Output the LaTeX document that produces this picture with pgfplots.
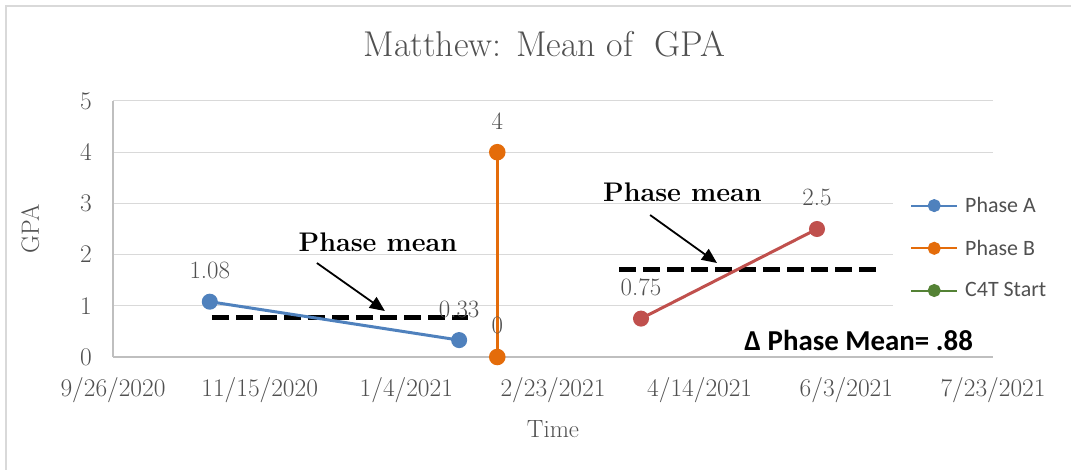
\documentclass[border=0pt]{standalone}
\usepackage{pgfplots}
\pgfplotsset{compat=1.18}
\usepackage{fontspec}
\newfontfamily\carlito{Carlito}
\usetikzlibrary{arrows.meta}
\definecolor{phaseA}{HTML}{4F81BD}
\definecolor{phaseB}{HTML}{E46C0A}
\definecolor{phaseC}{HTML}{C0504D}
\definecolor{cstart}{HTML}{548235}
\definecolor{textgray}{HTML}{505050}
\definecolor{gridgray}{HTML}{D9D9D9}
\definecolor{axisgray}{HTML}{BFBFBF}
\begin{document}
\begin{tikzpicture}[x=1bp,y=1bp]
\useasboundingbox (-113,-113) rectangle (958,357);
\draw[line width=1.5bp, color=gridgray] (-107,-113) -- (-107,351) -- (958,351);
\node[anchor=base, font=\fontsize{36}{42}\selectfont, text=textgray] at (431.5,300) {Matthew: Mean of\ \ GPA};
\begin{axis}[
  at={(0,0)}, anchor=south west,
  scale only axis, width=880bp, height=256bp,
  xmin=0, xmax=300, ymin=0, ymax=5,
  clip=false,
  axis lines=left,
  axis line style={-, draw=axisgray, line width=1.3bp},
  xtick={0,50,...,300},
  xticklabels={9/26/2020,11/15/2020,1/4/2021,2/23/2021,4/14/2021,6/3/2021,7/23/2021},
  ytick={0,1,...,5},
  major tick length=0pt,
  ymajorgrids, grid style={draw=gridgray, line width=1bp},
  /pgf/number format/assume math mode=true,
  ticklabel style={font=\fontsize{25.5}{30}\selectfont, text=textgray},
  xticklabel style={anchor=north, inner sep=0pt, yshift=-20bp},
  yticklabel style={anchor=east, inner sep=0pt, xshift=-21bp},
  xlabel={Time}, ylabel={GPA},
  label style={font=\fontsize{25}{30}\selectfont, text=textgray},
  xlabel style={at={(axis description cs:0.5,-0.281)}, anchor=center},
  ylabel style={at={(axis description cs:-0.094,0.5)}, anchor=center},
  legend style={at={(axis description cs:0.8864,0.66)}, anchor=north west,
    draw=none, fill=white, inner xsep=17bp, inner ysep=9bp,
    font=\carlito\fontsize{22}{26}\selectfont, text=textgray,
    row sep=26bp, nodes={inner sep=0pt},
    /tikz/every odd column/.append style={column sep=7bp}},
  legend cell align=left,
  legend image code/.code={\draw[mark repeat=2,mark phase=2,#1] plot coordinates {(0bp,0bp) (23bp,0bp) (46bp,0bp)};},
  nodes near coords style={font=\fontsize{25}{30}\selectfont, text=textgray, anchor=base, inner sep=0pt, yshift=23bp},
]
% phase means
\addplot[forget plot, black, line width=5bp, dash pattern=on 17bp off 7bp] coordinates {(33.75,0.77) (121,0.77)};
\addplot[forget plot, black, line width=5bp, dash pattern=on 17bp off 7bp] coordinates {(172.5,1.70) (260.5,1.70)};
% series
\addplot[forget plot, color=phaseA, line width=3bp, mark=*, mark size=6.5bp, nodes near coords] coordinates {(33,1.08) (118,0.33)};
\addplot[forget plot, color=phaseB, line width=3.5bp, mark=*, mark size=6.5bp, nodes near coords] coordinates {(131,4) (131,0)};
\addplot[forget plot, color=phaseC, line width=3bp, mark=*, mark size=6.5bp, nodes near coords] coordinates {(180,0.75) (240,2.5)};
% legend
\addlegendimage{color=phaseA, line width=2bp, mark=*, mark size=5.5bp}
\addlegendentry{Phase A}
\addlegendimage{color=phaseB, line width=2bp, mark=*, mark size=5.5bp}
\addlegendentry{Phase B}
\addlegendimage{color=cstart, line width=2bp, mark=*, mark size=5.5bp}
\addlegendentry{C4T Start}
% annotations
\draw[black, line width=1.8bp, -{Triangle[length=15bp,width=13bp]}] (axis cs:69.5,1.836) -- (axis cs:92.7,0.898);
\draw[black, line width=1.8bp, -{Triangle[length=15bp,width=13bp]}] (axis cs:183.1,2.773) -- (axis cs:205.9,1.836);
\node[font=\bfseries\fontsize{27}{31}\selectfont, text=black] at (axis cs:90.3,2.246) {Phase mean};
\node[font=\bfseries\fontsize{27}{31}\selectfont, text=black] at (axis cs:194.1,3.223) {Phase mean};
\node[font=\carlito\bfseries\fontsize{29}{33}\selectfont, text=black] at (axis cs:254.2,0.332) {Δ Phase Mean= .88};
\end{axis}
\end{tikzpicture}
\end{document}
